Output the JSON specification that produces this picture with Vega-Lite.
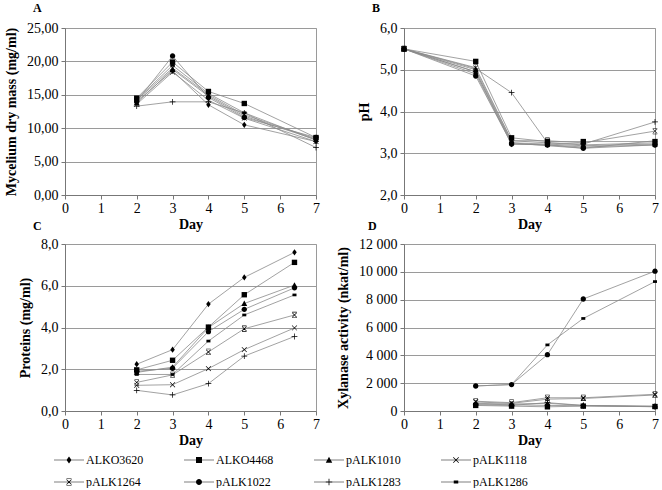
{
  "$schema": "https://vega.github.io/schema/vega-lite/v6.json",
  "padding": {"left": 4, "top": 1, "right": 4, "bottom": 0},
  "background": "white",
  "datasets": {
    "mass": [
      {"series": "ALKO3620", "day": 2, "value": 14.0}, {"series": "ALKO3620", "day": 3, "value": 18.6}, {"series": "ALKO3620", "day": 4, "value": 13.5}, {"series": "ALKO3620", "day": 5, "value": 10.5}, {"series": "ALKO3620", "day": 7, "value": 8.0},
      {"series": "ALKO4468", "day": 2, "value": 14.5}, {"series": "ALKO4468", "day": 3, "value": 19.9}, {"series": "ALKO4468", "day": 4, "value": 15.5}, {"series": "ALKO4468", "day": 5, "value": 13.7}, {"series": "ALKO4468", "day": 7, "value": 8.6},
      {"series": "pALK1010", "day": 2, "value": 13.8}, {"series": "pALK1010", "day": 3, "value": 18.8}, {"series": "pALK1010", "day": 4, "value": 14.8}, {"series": "pALK1010", "day": 5, "value": 11.8}, {"series": "pALK1010", "day": 7, "value": 8.3},
      {"series": "pALK1118", "day": 2, "value": 13.6}, {"series": "pALK1118", "day": 3, "value": 18.4}, {"series": "pALK1118", "day": 4, "value": 14.2}, {"series": "pALK1118", "day": 5, "value": 11.5}, {"series": "pALK1118", "day": 7, "value": 8.0},
      {"series": "pALK1264", "day": 2, "value": 14.2}, {"series": "pALK1264", "day": 3, "value": 19.0}, {"series": "pALK1264", "day": 4, "value": 15.0}, {"series": "pALK1264", "day": 5, "value": 12.0}, {"series": "pALK1264", "day": 7, "value": 8.4},
      {"series": "pALK1022", "day": 2, "value": 14.0}, {"series": "pALK1022", "day": 3, "value": 20.8}, {"series": "pALK1022", "day": 4, "value": 14.6}, {"series": "pALK1022", "day": 5, "value": 11.6}, {"series": "pALK1022", "day": 7, "value": 8.6},
      {"series": "pALK1283", "day": 2, "value": 13.3}, {"series": "pALK1283", "day": 3, "value": 13.95}, {"series": "pALK1283", "day": 4, "value": 13.95}, {"series": "pALK1283", "day": 5, "value": 12.3}, {"series": "pALK1283", "day": 7, "value": 7.1},
      {"series": "pALK1286", "day": 2, "value": 14.3}, {"series": "pALK1286", "day": 3, "value": 19.4}, {"series": "pALK1286", "day": 4, "value": 15.2}, {"series": "pALK1286", "day": 5, "value": 12.3}, {"series": "pALK1286", "day": 7, "value": 8.2}
    ],
    "ph": [
      {"series": "ALKO3620", "day": 0, "value": 5.5}, {"series": "ALKO3620", "day": 2, "value": 4.9}, {"series": "ALKO3620", "day": 3, "value": 3.22}, {"series": "ALKO3620", "day": 4, "value": 3.2}, {"series": "ALKO3620", "day": 5, "value": 3.15}, {"series": "ALKO3620", "day": 7, "value": 3.2},
      {"series": "ALKO4468", "day": 0, "value": 5.5}, {"series": "ALKO4468", "day": 2, "value": 5.2}, {"series": "ALKO4468", "day": 3, "value": 3.37}, {"series": "ALKO4468", "day": 4, "value": 3.28}, {"series": "ALKO4468", "day": 5, "value": 3.28}, {"series": "ALKO4468", "day": 7, "value": 3.28},
      {"series": "pALK1010", "day": 0, "value": 5.5}, {"series": "pALK1010", "day": 2, "value": 5.0}, {"series": "pALK1010", "day": 3, "value": 3.3}, {"series": "pALK1010", "day": 4, "value": 3.25}, {"series": "pALK1010", "day": 5, "value": 3.2}, {"series": "pALK1010", "day": 7, "value": 3.25},
      {"series": "pALK1118", "day": 0, "value": 5.5}, {"series": "pALK1118", "day": 2, "value": 4.95}, {"series": "pALK1118", "day": 3, "value": 3.25}, {"series": "pALK1118", "day": 4, "value": 3.22}, {"series": "pALK1118", "day": 5, "value": 3.18}, {"series": "pALK1118", "day": 7, "value": 3.22},
      {"series": "pALK1264", "day": 0, "value": 5.5}, {"series": "pALK1264", "day": 2, "value": 5.05}, {"series": "pALK1264", "day": 3, "value": 3.3}, {"series": "pALK1264", "day": 4, "value": 3.3}, {"series": "pALK1264", "day": 5, "value": 3.25}, {"series": "pALK1264", "day": 7, "value": 3.53},
      {"series": "pALK1022", "day": 0, "value": 5.5}, {"series": "pALK1022", "day": 2, "value": 4.85}, {"series": "pALK1022", "day": 3, "value": 3.22}, {"series": "pALK1022", "day": 4, "value": 3.2}, {"series": "pALK1022", "day": 5, "value": 3.12}, {"series": "pALK1022", "day": 7, "value": 3.2},
      {"series": "pALK1283", "day": 0, "value": 5.5}, {"series": "pALK1283", "day": 2, "value": 5.03}, {"series": "pALK1283", "day": 3, "value": 4.45}, {"series": "pALK1283", "day": 4, "value": 3.25}, {"series": "pALK1283", "day": 5, "value": 3.22}, {"series": "pALK1283", "day": 7, "value": 3.75},
      {"series": "pALK1286", "day": 0, "value": 5.5}, {"series": "pALK1286", "day": 2, "value": 4.95}, {"series": "pALK1286", "day": 3, "value": 3.25}, {"series": "pALK1286", "day": 4, "value": 3.18}, {"series": "pALK1286", "day": 5, "value": 3.12}, {"series": "pALK1286", "day": 7, "value": 3.3}
    ],
    "prot": [
      {"series": "ALKO3620", "day": 2, "value": 2.24}, {"series": "ALKO3620", "day": 3, "value": 2.94}, {"series": "ALKO3620", "day": 4, "value": 5.12}, {"series": "ALKO3620", "day": 5, "value": 6.4}, {"series": "ALKO3620", "day": 6.4, "value": 7.6},
      {"series": "ALKO4468", "day": 2, "value": 1.97}, {"series": "ALKO4468", "day": 3, "value": 2.43}, {"series": "ALKO4468", "day": 4, "value": 4.02}, {"series": "ALKO4468", "day": 5, "value": 5.57}, {"series": "ALKO4468", "day": 6.4, "value": 7.12},
      {"series": "pALK1010", "day": 2, "value": 1.85}, {"series": "pALK1010", "day": 3, "value": 2.1}, {"series": "pALK1010", "day": 4, "value": 4.0}, {"series": "pALK1010", "day": 5, "value": 5.15}, {"series": "pALK1010", "day": 6.4, "value": 6.03},
      {"series": "pALK1118", "day": 2, "value": 1.23}, {"series": "pALK1118", "day": 3, "value": 1.26}, {"series": "pALK1118", "day": 4, "value": 2.03}, {"series": "pALK1118", "day": 5, "value": 2.94}, {"series": "pALK1118", "day": 6.4, "value": 3.98},
      {"series": "pALK1264", "day": 2, "value": 1.37}, {"series": "pALK1264", "day": 3, "value": 1.73}, {"series": "pALK1264", "day": 4, "value": 2.83}, {"series": "pALK1264", "day": 5, "value": 3.94}, {"series": "pALK1264", "day": 6.4, "value": 4.6},
      {"series": "pALK1022", "day": 2, "value": 1.9}, {"series": "pALK1022", "day": 3, "value": 2.05}, {"series": "pALK1022", "day": 4, "value": 3.8}, {"series": "pALK1022", "day": 5, "value": 4.87}, {"series": "pALK1022", "day": 6.4, "value": 5.9},
      {"series": "pALK1283", "day": 2, "value": 0.99}, {"series": "pALK1283", "day": 3, "value": 0.77}, {"series": "pALK1283", "day": 4, "value": 1.31}, {"series": "pALK1283", "day": 5, "value": 2.63}, {"series": "pALK1283", "day": 6.4, "value": 3.57},
      {"series": "pALK1286", "day": 2, "value": 1.75}, {"series": "pALK1286", "day": 3, "value": 1.75}, {"series": "pALK1286", "day": 4, "value": 3.35}, {"series": "pALK1286", "day": 5, "value": 4.6}, {"series": "pALK1286", "day": 6.4, "value": 5.56}
    ],
    "xyl": [
      {"series": "ALKO3620", "day": 2, "value": 500}, {"series": "ALKO3620", "day": 3, "value": 450}, {"series": "ALKO3620", "day": 4, "value": 400}, {"series": "ALKO3620", "day": 5, "value": 380}, {"series": "ALKO3620", "day": 7, "value": 330},
      {"series": "ALKO4468", "day": 2, "value": 400}, {"series": "ALKO4468", "day": 3, "value": 350}, {"series": "ALKO4468", "day": 4, "value": 300}, {"series": "ALKO4468", "day": 5, "value": 350}, {"series": "ALKO4468", "day": 7, "value": 320},
      {"series": "pALK1010", "day": 2, "value": 550}, {"series": "pALK1010", "day": 3, "value": 500}, {"series": "pALK1010", "day": 4, "value": 550}, {"series": "pALK1010", "day": 5, "value": 400}, {"series": "pALK1010", "day": 7, "value": 350},
      {"series": "pALK1118", "day": 2, "value": 650}, {"series": "pALK1118", "day": 3, "value": 550}, {"series": "pALK1118", "day": 4, "value": 850}, {"series": "pALK1118", "day": 5, "value": 900}, {"series": "pALK1118", "day": 7, "value": 1150},
      {"series": "pALK1264", "day": 2, "value": 700}, {"series": "pALK1264", "day": 3, "value": 600}, {"series": "pALK1264", "day": 4, "value": 950}, {"series": "pALK1264", "day": 5, "value": 950}, {"series": "pALK1264", "day": 7, "value": 1200},
      {"series": "pALK1022", "day": 2, "value": 1800}, {"series": "pALK1022", "day": 3, "value": 1900}, {"series": "pALK1022", "day": 4, "value": 4050}, {"series": "pALK1022", "day": 5, "value": 8050}, {"series": "pALK1022", "day": 7, "value": 10050},
      {"series": "pALK1283", "day": 2, "value": 450}, {"series": "pALK1283", "day": 3, "value": 400}, {"series": "pALK1283", "day": 4, "value": 600}, {"series": "pALK1283", "day": 5, "value": 400}, {"series": "pALK1283", "day": 7, "value": 300},
      {"series": "pALK1286", "day": 2, "value": 1800}, {"series": "pALK1286", "day": 3, "value": 1900}, {"series": "pALK1286", "day": 4, "value": 4750}, {"series": "pALK1286", "day": 5, "value": 6650}, {"series": "pALK1286", "day": 7, "value": 9300}
    ]
  },
  "columns": 2,
  "bounds": "flush",
  "spacing": {"row": 49, "column": 88},
  "concat": [
    {
      "width": 251, "height": 167,
      "title": {"text": "A", "anchor": "start", "dx": -32, "offset": 6},
      "data": {"name": "mass"},
      "encoding": {
        "x": {"field": "day", "type": "quantitative", "scale": {"domain": [0, 7], "nice": false}, "axis": {"values": [0, 1, 2, 3, 4, 5, 6, 7], "title": "Day", "grid": false}},
        "y": {"field": "value", "type": "quantitative", "scale": {"domain": [0, 25], "nice": false}, "axis": {"values": [0, 5, 10, 15, 20, 25], "title": "Mycelium dry mass (mg/ml)", "labelExpr": "replace(format(datum.value, '.2f'), '.', ',')"}}
      },
      "layer": [
        {"mark": {"type": "line", "color": "#8a8a8a", "strokeWidth": 0.8}, "encoding": {"detail": {"field": "series"}}},
        {"mark": {"type": "point", "filled": true, "opacity": 1, "size": 80}, "encoding": {
          "shape": {"field": "series", "type": "nominal", "legend": null},
          "color": {"field": "series", "type": "nominal",
            "scale": {"domain": ["ALKO3620", "ALKO4468", "pALK1010", "pALK1118", "pALK1264", "pALK1022", "pALK1283", "pALK1286"], "range": ["black", "black", "black", "black", "black", "black", "black", "black"]},
            "legend": {
              "orient": "none", "legendX": -2, "legendY": 426, "direction": "horizontal", "columns": 4, "title": null, "padding": 0,
              "symbolSize": 100, "labelOffset": 11, "columnPadding": 40, "rowPadding": 10,
              "encoding": {"symbols": {"shape": {"value": {"expr": "(datum.value==='ALKO3620'?'M0,-0.7L0.5,0L0,0.7L-0.5,0Z':datum.value==='ALKO4468'?'M-0.6,-0.6H0.6V0.6H-0.6Z':datum.value==='pALK1010'?'M0,-0.65L0.65,0.55H-0.65Z':datum.value==='pALK1118'?'M-0.6,-0.5L-0.5,-0.6L0.6,0.5L0.5,0.6ZM0.5,-0.6L0.6,-0.5L-0.5,0.6L-0.6,0.5Z':datum.value==='pALK1264'?'M-0.55,-0.45L-0.45,-0.55L0.55,0.45L0.45,0.55ZM0.45,-0.55L0.55,-0.45L-0.45,0.55L-0.55,0.45ZM-0.5,-0.7H0.5V-0.58H-0.5ZM-0.5,0.58H0.5V0.7H-0.5Z':datum.value==='pALK1022'?'M-0.6,0A0.6,0.6 0 1,1 0.6,0A0.6,0.6 0 1,1 -0.6,0Z':datum.value==='pALK1283'?'M-0.65,-0.08H-0.08V-0.65H0.08V-0.08H0.65V0.08H0.08V0.65H-0.08V0.08H-0.65Z':'M-0.45,-0.3H0.45V0.3H-0.45Z') + 'M-3,-0.06H3V0.06H-3Z'"}}}}
            }}
        }}
      ]
    },
    {
      "width": 251, "height": 167,
      "title": {"text": "B", "anchor": "start", "dx": -32, "offset": 6},
      "data": {"name": "ph"},
      "encoding": {
        "x": {"field": "day", "type": "quantitative", "scale": {"domain": [0, 7], "nice": false}, "axis": {"values": [0, 1, 2, 3, 4, 5, 6, 7], "title": "Day", "grid": false}},
        "y": {"field": "value", "type": "quantitative", "scale": {"domain": [2, 6], "nice": false, "zero": false}, "axis": {"values": [2, 3, 4, 5, 6], "title": "pH", "labelExpr": "replace(format(datum.value, '.1f'), '.', ',')"}}
      },
      "layer": [
        {"mark": {"type": "line", "color": "#8a8a8a", "strokeWidth": 0.8}, "encoding": {"detail": {"field": "series"}}},
        {"mark": {"type": "point", "filled": true, "opacity": 1, "size": 80}, "encoding": {"shape": {"field": "series", "type": "nominal", "legend": null}, "color": {"field": "series", "type": "nominal"}}}
      ]
    },
    {
      "width": 251, "height": 167,
      "title": {"text": "C", "anchor": "start", "dx": -32, "offset": 4},
      "data": {"name": "prot"},
      "encoding": {
        "x": {"field": "day", "type": "quantitative", "scale": {"domain": [0, 7], "nice": false}, "axis": {"values": [0, 1, 2, 3, 4, 5, 6, 7], "title": "Day", "grid": false}},
        "y": {"field": "value", "type": "quantitative", "scale": {"domain": [0, 8], "nice": false}, "axis": {"values": [0, 2, 4, 6, 8], "title": "Proteins (mg/ml)", "labelExpr": "replace(format(datum.value, '.1f'), '.', ',')"}}
      },
      "layer": [
        {"mark": {"type": "line", "color": "#8a8a8a", "strokeWidth": 0.8}, "encoding": {"detail": {"field": "series"}}},
        {"mark": {"type": "point", "filled": true, "opacity": 1, "size": 80}, "encoding": {"shape": {"field": "series", "type": "nominal", "legend": null}, "color": {"field": "series", "type": "nominal"}}}
      ]
    },
    {
      "width": 251, "height": 167,
      "title": {"text": "D", "anchor": "start", "dx": -36, "offset": 4},
      "data": {"name": "xyl"},
      "encoding": {
        "x": {"field": "day", "type": "quantitative", "scale": {"domain": [0, 7], "nice": false}, "axis": {"values": [0, 1, 2, 3, 4, 5, 6, 7], "title": "Day", "grid": false}},
        "y": {"field": "value", "type": "quantitative", "scale": {"domain": [0, 12000], "nice": false}, "axis": {"values": [0, 2000, 4000, 6000, 8000, 10000, 12000], "title": "Xylanase activity (nkat/ml)", "labelExpr": "replace(format(datum.value, ','), ',', ' ')"}}
      },
      "layer": [
        {"mark": {"type": "line", "color": "#8a8a8a", "strokeWidth": 0.8}, "encoding": {"detail": {"field": "series"}}},
        {"mark": {"type": "point", "filled": true, "opacity": 1, "size": 80}, "encoding": {"shape": {"field": "series", "type": "nominal", "legend": null}, "color": {"field": "series", "type": "nominal"}}}
      ]
    }
  ],
  "config": {
    "font": "Liberation Serif",
    "view": {"stroke": "#9a9a9a", "strokeWidth": 1},
    "title": {"font": "Liberation Serif", "fontSize": 12, "fontWeight": "bold", "color": "black", "frame": "group"},
    "axis": {
      "labelFont": "Liberation Serif", "labelFontSize": 14, "labelColor": "black",
      "titleFont": "Liberation Serif", "titleFontSize": 14, "titleFontWeight": "bold", "titleColor": "black",
      "domainColor": "#777", "tickColor": "#777", "tickSize": 4,
      "gridColor": "#9a9a9a", "gridWidth": 1
    },
    "axisX": {"labelFlush": false, "labelPadding": 2, "titlePadding": 2},
    "axisY": {"labelPadding": 3, "titlePadding": 8},
    "legend": {"labelFont": "Liberation Serif", "labelFontSize": 12, "labelColor": "black", "symbolStrokeWidth": 0},
    "range": {"symbol": [
      "M0,-0.7L0.5,0L0,0.7L-0.5,0Z",
      "M-0.6,-0.6H0.6V0.6H-0.6Z",
      "M0,-0.65L0.65,0.55H-0.65Z",
      "M-0.6,0A0.6,0.6 0 1,1 0.6,0A0.6,0.6 0 1,1 -0.6,0Z",
      "M-0.6,-0.5L-0.5,-0.6L0.6,0.5L0.5,0.6ZM0.5,-0.6L0.6,-0.5L-0.5,0.6L-0.6,0.5Z",
      "M-0.55,-0.45L-0.45,-0.55L0.55,0.45L0.45,0.55ZM0.45,-0.55L0.55,-0.45L-0.45,0.55L-0.55,0.45ZM-0.5,-0.7H0.5V-0.58H-0.5ZM-0.5,0.58H0.5V0.7H-0.5Z",
      "M-0.65,-0.08H-0.08V-0.65H0.08V-0.08H0.65V0.08H0.08V0.65H-0.08V0.08H-0.65Z",
      "M-0.45,-0.3H0.45V0.3H-0.45Z"
    ]}
  }
}
